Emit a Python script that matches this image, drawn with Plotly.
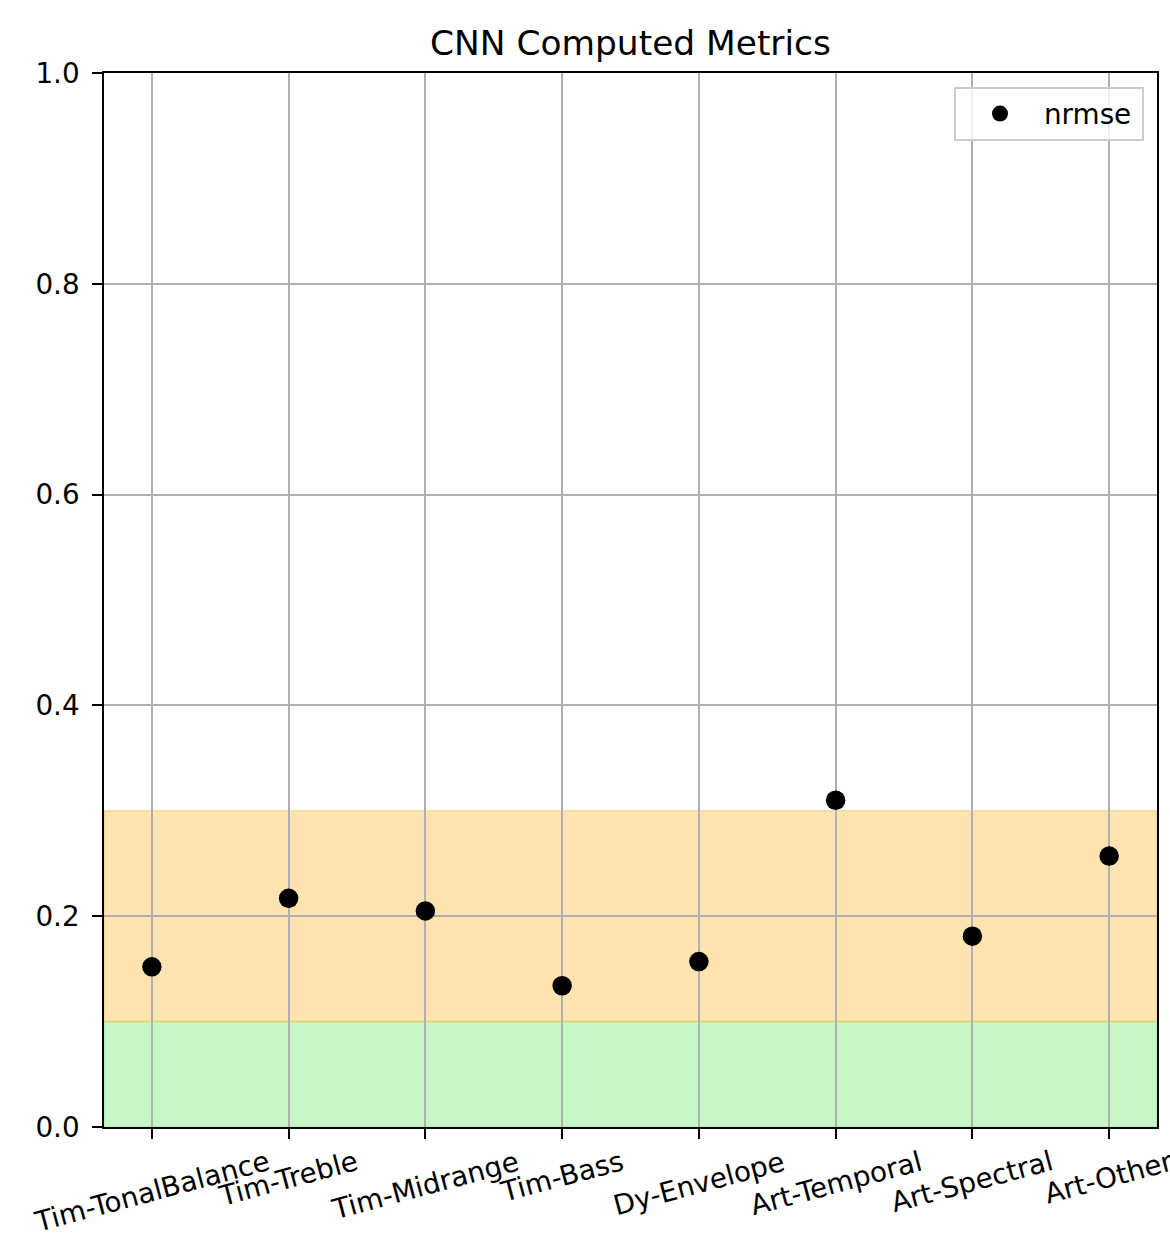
import plotly.graph_objects as go

# Metric categories and their normalised RMSE scores
categories = ["Tim-TonalBalance", "Tim-Treble", "Tim-Midrange", "Tim-Bass",
              "Dy-Envelope", "Art-Temporal", "Art-Spectral", "Art-Other"]
nrmse = [0.152, 0.217, 0.205, 0.134, 0.157, 0.310, 0.181, 0.257]

# Quality bands (lower, upper, fill colour)
band_low = [0.0, 0.1]
band_high = [0.1, 0.3]
band_colors = ["rgba(144,238,144,0.5)", "rgba(255,165,0,0.3)"]

y_ticks = [0.0, 0.2, 0.4, 0.6, 0.8, 1.0]

FONT = "DejaVu Sans"
TICK_PX = 27.8
GRID = "#b0b0b0"
LW = 2.2

x_idx = list(range(len(categories)))

fig = go.Figure()
fig.add_trace(go.Scatter(
    x=x_idx, y=nrmse, mode="markers", name="nrmse\u2009",
    marker=dict(color="black", size=19.5, line=dict(width=0)),
))

for lo, hi, col in zip(band_low, band_high, band_colors):
    fig.add_shape(type="rect", xref="paper", x0=0, x1=1, yref="y", y0=lo, y1=hi,
                  fillcolor=col, line=dict(color=col, width=1.5), layer="below")

# Rotated category labels, centred under each tick
for i, name in zip(x_idx, categories):
    fig.add_annotation(x=i, xref="x", y=0, yref="paper", text=name,
                       showarrow=False, textangle=-15, xanchor="center",
                       yanchor="top", yshift=-15,
                       font=dict(family=FONT, size=TICK_PX, color="black"))

fig.update_layout(
    width=1170, height=1240,
    margin=dict(l=104, r=13, t=73, b=113),
    paper_bgcolor="white", plot_bgcolor="white",
    font=dict(family=FONT, size=TICK_PX, color="black"),
    title=dict(text="CNN Computed Metrics", x=0.5, xref="paper", xanchor="center",
               y=1 - 55 / 1240, yref="container", yanchor="bottom",
               font=dict(family=FONT, size=34.4, color="black")),
    showlegend=True,
    legend=dict(x=(1144 - 104) / 1053, xanchor="right", y=1 - 14 / 1054, yanchor="top",
                bgcolor="rgba(255,255,255,0.8)", bordercolor="#cccccc", borderwidth=2,
                font=dict(family=FONT, size=TICK_PX, color="black"), itemwidth=78),
)

fig.update_xaxes(range=[-0.35, len(categories) - 0.65], tickvals=x_idx,
                 showticklabels=False, ticks="outside", ticklen=9.7, tickwidth=LW,
                 tickcolor="black", showgrid=True, gridcolor=GRID, gridwidth=LW,
                 showline=True, linecolor="black", linewidth=LW, mirror=True,
                 zeroline=False)
fig.update_yaxes(range=[0, 1], tickvals=y_ticks, tickformat=".1f",
                 ticks="outside", ticklen=9.7, tickwidth=LW, tickcolor="black",
                 ticklabelstandoff=7,
                 showgrid=True, gridcolor=GRID, gridwidth=LW,
                 showline=True, linecolor="black", linewidth=LW, mirror=True,
                 zeroline=False, tickfont=dict(family=FONT, size=TICK_PX, color="black"))

fig.write_html("out.html")
